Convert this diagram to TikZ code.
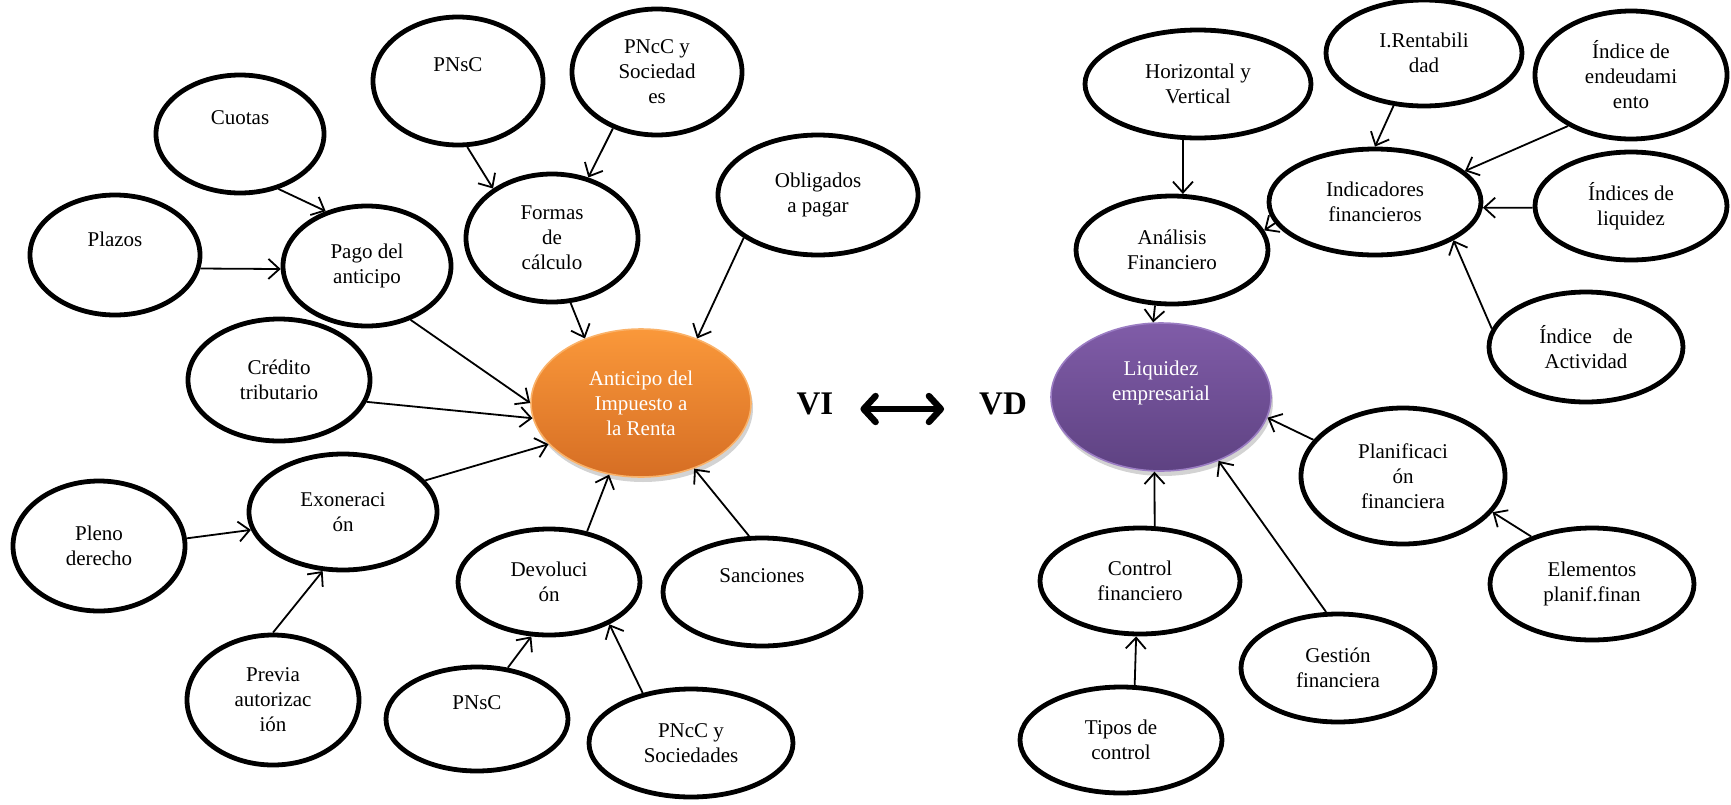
\documentclass[tikz,border=0pt]{standalone}
\usepackage{fontspec}
\setmainfont{Liberation Serif}
\usetikzlibrary{shapes.geometric,arrows.meta,shadows}
\definecolor{naranjaA}{RGB}{250,152,58}
\definecolor{naranjaB}{RGB}{214,110,36}
\definecolor{naranjaC}{RGB}{250,178,105}
\definecolor{moradoA}{RGB}{128,92,168}
\definecolor{moradoB}{RGB}{94,66,130}
\definecolor{moradoC}{RGB}{155,125,195}
\tikzset{
  nodo/.style={ellipse, draw, line width=2.4pt, inner sep=0pt, align=center,
    font=\fontsize{10.5}{12.5}\selectfont},
  tam/.style 2 args={minimum width=#1pt, minimum height=#2pt},
  central/.style={ellipse, inner sep=0pt, align=center, line width=0.8pt, text=white,
    font=\fontsize{10.5}{12.5}\selectfont,
    drop shadow={opacity=0.35, shadow xshift=1pt, shadow yshift=-2.5pt}},
  flecha/.style={line width=0.9pt, -{Straight Barb[length=5.5pt,width=10pt]}},
  tipo/.style={font=\fontsize{16.5}{18}\selectfont\bfseries},
}
\begin{document}
\begin{tikzpicture}[x=0.5pt, y=-0.5pt]
\useasboundingbox (0,0) rectangle (1731,804);

\node[central, tam={110}{74}, top color=naranjaA, bottom color=naranjaB, draw=naranjaC]
  (anticipo) at (641,403) {Anticipo del\\Impuesto a\\la Renta};
\node[central, tam={110}{74}, top color=moradoA, bottom color=moradoB, draw=moradoC]
  (liquidez) at (1161,397) {Liquidez\\empresarial\\\strut};

\node[tipo] (vi) at (815,404) {VI};
\node[tipo] (vd) at (1003,404) {VD};
\draw[line width=3.2pt, line cap=round,
      {Straight Barb[length=6pt,width=13pt,round]}-{Straight Barb[length=6pt,width=13pt,round]},
      shorten <=10pt, shorten >=14pt]
  ([yshift=-2.5pt]vi.east) -- ([yshift=-2.5pt]vd.west);

\node[nodo, tam={85}{64}] (pnscA) at (458,81) {PNsC\\\strut};
\node[nodo, tam={85}{63}] (pnccA) at (657,72) {PNcC y\\Sociedad\\es};
\node[nodo, tam={84}{59}] (cuotas) at (240,134) {Cuotas\\\strut};
\node[nodo, tam={85}{60}] (plazos) at (115,255) {Plazos\\\strut};
\node[nodo, tam={84}{60}] (pago) at (367,266) {Pago del\\anticipo};
\node[nodo, tam={86}{64}] (formas) at (552,238) {Formas\\de\\cálculo};
\node[nodo, tam={100}{60}] (obligados) at (818,195) {Obligados\\a pagar};
\node[nodo, tam={91}{61}] (credito) at (279,380) {Crédito\\tributario};
\node[nodo, tam={94}{58}] (exoneracion) at (343,512) {Exoneraci\\ón};
\node[nodo, tam={86}{65}] (pleno) at (99,546) {Pleno\\derecho};
\node[nodo, tam={86}{65}] (previa) at (273,700) {Previa\\autorizac\\ión};
\node[nodo, tam={91}{53}] (devolucion) at (549,582) {Devoluci\\ón};
\node[nodo, tam={99}{54}] (sanciones) at (762,592) {Sanciones\\\strut};
\node[nodo, tam={91}{52}] (pnscB) at (477,719) {PNsC\\\strut};
\node[nodo, tam={102}{54}] (pnccB) at (691,743) {PNcC y\\Sociedades};

\node[nodo, tam={113}{54}] (horizontal) at (1198,84) {Horizontal y\\Vertical};
\node[nodo, tam={98}{53}] (rentabilidad) at (1424,53) {I.Rentabili\\dad};
\node[nodo, tam={96}{64}] (endeudamiento) at (1631,75) {Índice de\\endeudami\\ento};
\node[nodo, tam={106}{53}] (indicadores) at (1375,202) {Indicadores\\financieros};
\node[nodo, tam={96}{54}] (iliquidez) at (1631,206) {Índices de\\liquidez};
\node[nodo, tam={96}{54}] (analisis) at (1172,250) {Análisis\\Financiero};
\node[nodo, tam={97}{55}] (actividad) at (1586,347) {Índice\quad de\\Actividad};
\node[nodo, tam={102}{68}] (planificacion) at (1403,476) {Planificaci\\ón\\financiera};
\node[nodo, tam={100}{53}] (control) at (1140,581) {Control\\financiero};
\node[nodo, tam={102}{56}] (elementos) at (1592,584) {Elementos\\planif.finan};
\node[nodo, tam={97}{54}] (gestion) at (1338,668) {Gestión\\financiera};
\node[nodo, tam={101}{53}] (tipos) at (1121,740) {Tipos de\\control};

\path[flecha]
  (cuotas.-55) edge (pago.127)
  (plazos.-9) edge (pago.-178)
  (pnscA.-82) edge (formas.140)
  (pnccA.-128) edge (formas.59)
  (pago.-51) edge (anticipo.180)
  (formas.-74) edge (anticipo.131)
  (obligados.-150) edge (anticipo.49)
  (credito.-14) edge (anticipo.188)
  (exoneracion.21) edge (anticipo.-156)
  (pleno.5) edge (exoneracion.-169)
  (previa.90) edge (exoneracion.-109)
  (devolucion.53) edge (anticipo.-114)
  (sanciones.103) edge (anticipo.-51)
  (pnscB.59) edge (devolucion.-108)
  (pnccB.134) edge (devolucion.-35);

\path[flecha]
  (horizontal.-105) edge (analisis.79)
  (rentabilidad.-120) edge (indicadores.90)
  (endeudamiento.-141) edge (indicadores.19)
  (iliquidez.-179) edge (indicadores.-3)
  (actividad.169) edge (indicadores.-26)
  (indicadores.192) edge (analisis.12)
  (analisis.-107) edge (liquidez.96)
  (planificacion.158) edge (liquidez.-11)
  (control.75) edge (liquidez.-95)
  (gestion.102) edge (liquidez.-48)
  (tipos.76) edge (control.-94)
  (elementos.142) edge (planificacion.-22);
\end{tikzpicture}
\end{document}
